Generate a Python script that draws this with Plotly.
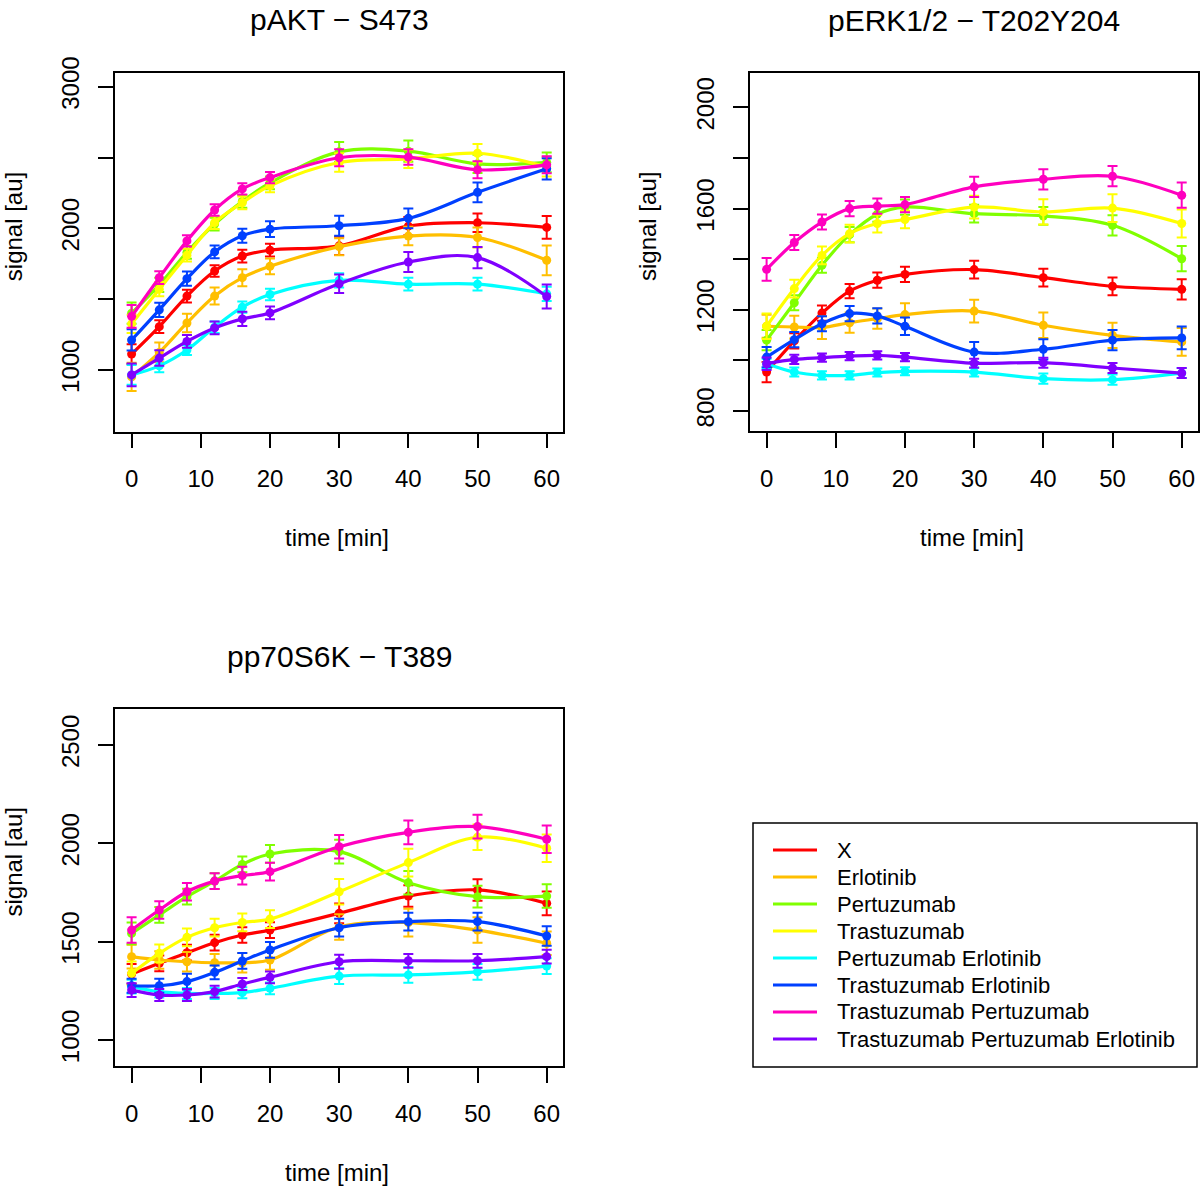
import plotly.graph_objects as go

# ---------------- data ----------------
time_min = [0, 4, 8, 12, 16, 20, 30, 40, 50, 60]

treatments = ["X", "Erlotinib", "Pertuzumab", "Trastuzumab",
              "Pertuzumab Erlotinib", "Trastuzumab Erlotinib",
              "Trastuzumab Pertuzumab", "Trastuzumab Pertuzumab Erlotinib"]

colors = ["#FF0000", "#FFBF00", "#80FF00", "#FFFF00",
          "#00FFFF", "#0040FF", "#FF00BF", "#8000FF"]

panel_titles = ["pAKT \u2212 S473", "pERK1/2 \u2212 T202Y204", "pp70S6K \u2212 T389"]

# pAKT - S473 (means)
pakt_x   = [1111, 1305, 1521, 1698, 1804, 1845, 1876, 2015, 2039, 2006]
pakt_e   = [950, 1123, 1331, 1521, 1651, 1731, 1870, 1945, 1935, 1774]
pakt_p   = [1400, 1600, 1830, 2030, 2190, 2320, 2540, 2545, 2455, 2465]
pakt_t   = [1325, 1570, 1810, 2040, 2180, 2300, 2465, 2490, 2530, 2435]
pakt_pe  = [964, 1028, 1140, 1301, 1443, 1532, 1632, 1605, 1605, 1537]
pakt_te  = [1211, 1424, 1644, 1833, 1947, 1994, 2018, 2070, 2254, 2420]
pakt_tp  = [1378, 1651, 1911, 2129, 2278, 2358, 2498, 2503, 2413, 2448]
pakt_tpe = [964, 1083, 1201, 1296, 1360, 1402, 1608, 1762, 1793, 1518]

# pAKT - S473 (error half-widths)
pakt_x_err   = [70, 45, 45, 40, 45, 45, 65, 65, 65, 80]
pakt_e_err   = [100, 70, 65, 60, 60, 55, 60, 65, 70, 105]
pakt_p_err   = [75, 50, 45, 45, 45, 45, 70, 75, 65, 70]
pakt_t_err   = [65, 50, 45, 45, 45, 45, 65, 65, 65, 70]
pakt_pe_err  = [70, 45, 35, 40, 40, 40, 50, 45, 45, 50]
pakt_te_err  = [75, 50, 50, 45, 50, 55, 70, 70, 70, 75]
pakt_tp_err  = [80, 45, 40, 40, 40, 40, 60, 55, 60, 60]
pakt_tpe_err = [80, 55, 45, 45, 50, 45, 65, 70, 75, 85]

# pERK1/2 - T202Y204 (means)
perk_x   = [954, 1077, 1187, 1274, 1317, 1340, 1359, 1327, 1293, 1281]
perk_e   = [1135, 1132, 1130, 1149, 1165, 1181, 1195, 1139, 1099, 1073]
perk_p   = [1080, 1228, 1376, 1497, 1578, 1606, 1580, 1571, 1534, 1402]
perk_t   = [1135, 1284, 1415, 1501, 1541, 1557, 1606, 1587, 1602, 1541]
perk_pe  = [987, 954, 941, 941, 952, 957, 954, 928, 924, 950]
perk_te  = [1013, 1082, 1145, 1185, 1176, 1135, 1033, 1044, 1080, 1089]
perk_tp  = [1360, 1466, 1547, 1600, 1610, 1616, 1686, 1716, 1728, 1653]
perk_tpe = [987, 1004, 1011, 1017, 1020, 1013, 989, 991, 970, 950]

perk_x_err   = [40, 30, 30, 28, 30, 30, 35, 35, 35, 40]
perk_e_err   = [45, 45, 45, 40, 40, 45, 45, 50, 50, 55]
perk_p_err   = [40, 30, 30, 30, 30, 30, 35, 35, 40, 50]
perk_t_err   = [50, 35, 35, 35, 35, 35, 45, 50, 55, 55]
perk_pe_err  = [20, 18, 16, 16, 16, 16, 18, 20, 20, 20]
perk_te_err  = [40, 30, 30, 30, 30, 35, 40, 40, 40, 45]
perk_tp_err  = [45, 30, 30, 30, 30, 30, 40, 40, 40, 50]
perk_tpe_err = [25, 18, 16, 16, 16, 16, 18, 20, 20, 20]

# pp70S6K - T389 (means)
p70_x   = [1336, 1390, 1444, 1495, 1534, 1559, 1644, 1732, 1763, 1695]
p70_e   = [1424, 1407, 1398, 1393, 1393, 1407, 1575, 1597, 1559, 1492]
p70_p   = [1542, 1636, 1729, 1808, 1893, 1946, 1958, 1800, 1729, 1732]
p70_t   = [1339, 1441, 1522, 1571, 1598, 1615, 1754, 1902, 2031, 1975]
p70_pe  = [1271, 1246, 1237, 1237, 1241, 1263, 1325, 1331, 1347, 1376]
p70_te  = [1276, 1276, 1297, 1344, 1402, 1458, 1571, 1602, 1602, 1529]
p70_tp  = [1559, 1661, 1754, 1808, 1836, 1856, 1983, 2056, 2085, 2021]
p70_tpe = [1254, 1229, 1229, 1246, 1285, 1319, 1398, 1403, 1403, 1424]

p70_x_err   = [50, 40, 40, 40, 40, 40, 50, 55, 55, 60]
p70_e_err   = [60, 45, 50, 45, 50, 50, 65, 70, 65, 60]
p70_p_err   = [55, 40, 40, 40, 40, 45, 60, 60, 55, 60]
p70_t_err   = [60, 45, 45, 45, 45, 45, 65, 70, 65, 70]
p70_pe_err  = [35, 30, 28, 28, 28, 30, 40, 40, 40, 40]
p70_te_err  = [35, 35, 40, 35, 40, 40, 45, 45, 45, 50]
p70_tp_err  = [65, 45, 45, 40, 45, 45, 60, 60, 60, 70]
p70_tpe_err = [35, 30, 30, 30, 30, 30, 35, 35, 35, 35]

x_ticks = [0, 10, 20, 30, 40, 50, 60]
pakt_yticks = [1000, 1500, 2000, 2500, 3000]
pakt_ylabels = ["1000", "", "2000", "", "3000"]
perk_yticks = [800, 1000, 1200, 1400, 1600, 1800, 2000]
perk_ylabels = ["800", "", "1200", "", "1600", "", "2000"]
p70_yticks = [1000, 1500, 2000, 2500]
p70_ylabels = ["1000", "1500", "2000", "2500"]

panels = [
    dict(means=[pakt_x, pakt_e, pakt_p, pakt_t, pakt_pe, pakt_te, pakt_tp, pakt_tpe],
         errs=[pakt_x_err, pakt_e_err, pakt_p_err, pakt_t_err, pakt_pe_err, pakt_te_err, pakt_tp_err, pakt_tpe_err],
         yticks=pakt_yticks, ylabels=pakt_ylabels),
    dict(means=[perk_x, perk_e, perk_p, perk_t, perk_pe, perk_te, perk_tp, perk_tpe],
         errs=[perk_x_err, perk_e_err, perk_p_err, perk_t_err, perk_pe_err, perk_te_err, perk_tp_err, perk_tpe_err],
         yticks=perk_yticks, ylabels=perk_ylabels),
    dict(means=[p70_x, p70_e, p70_p, p70_t, p70_pe, p70_te, p70_tp, p70_tpe],
         errs=[p70_x_err, p70_e_err, p70_p_err, p70_t_err, p70_pe_err, p70_te_err, p70_tp_err, p70_tpe_err],
         yticks=p70_yticks, ylabels=p70_ylabels),
]

# ---------------- layout geometry (pixels) ----------------
W, H = 1200, 1187
FONT = "Liberation Sans, Arial, Helvetica, sans-serif"

boxes = [  # (left, right, top, bottom)
    (115, 563.3, 72.7, 431.7),
    (750, 1198.3, 73.0, 431.0),
    (115, 563.3, 709.0, 1066.0),
]
yranges = [[563, 3099], [721, 2136], [868, 2683]]
xrange_ = [-2.4, 62.4]

fig = go.Figure()

for pi, panel in enumerate(panels):
    xa = "x" if pi == 0 else f"x{pi+1}"
    ya = "y" if pi == 0 else f"y{pi+1}"
    for si, name in enumerate(treatments):
        fig.add_trace(go.Scatter(
            x=time_min, y=panel["means"][si], mode="lines",
            line=dict(color=colors[si], width=3.2, shape="spline", smoothing=1.0),
            name=name, legendgroup=name, showlegend=False,
            xaxis=xa, yaxis=ya, hoverinfo="skip"))
        fig.add_trace(go.Scatter(
            x=time_min, y=panel["means"][si], mode="markers",
            marker=dict(color=colors[si], size=9),
            error_y=dict(type="data", array=panel["errs"][si], color=colors[si],
                         thickness=2, width=5),
            name=name, legendgroup=name, showlegend=False,
            xaxis=xa, yaxis=ya))

axis_common = dict(showline=True, mirror=True, linecolor="black", linewidth=1.5,
                   ticks="outside", ticklen=15, tickwidth=1.5, tickcolor="black",
                   showgrid=False, zeroline=False, automargin=False,
                   tickfont=dict(family=FONT, size=24, color="black"))

layout = dict(width=W, height=H, margin=dict(l=0, r=0, t=0, b=0, autoexpand=False),
              paper_bgcolor="white", plot_bgcolor="white", showlegend=False,
              font=dict(family=FONT, color="black"))

annotations = []
shapes = []
for pi, (l, r, t, b) in enumerate(boxes):
    sx = "" if pi == 0 else str(pi + 1)
    layout["xaxis" + sx] = dict(axis_common, domain=[l / W, r / W], range=xrange_,
                                tickmode="array", tickvals=x_ticks,
                                ticktext=[str(v) for v in x_ticks],
                                anchor="y" + sx, ticklabelstandoff=10)
    layout["yaxis" + sx] = dict(axis_common, domain=[1 - b / H, 1 - t / H], range=yranges[pi],
                                tickmode="array", tickvals=panels[pi]["yticks"],
                                ticktext=panels[pi]["ylabels"], tickangle=-90,
                                anchor="x" + sx, ticklabelstandoff=10)
    cx = (l + r) / 2
    annotations.append(dict(text=panel_titles[pi], x=cx / W, y=1 - (t - 53) / H,
                            xref="paper", yref="paper", showarrow=False,
                            xanchor="center", yanchor="middle",
                            font=dict(family=FONT, size=30, color="black")))
    annotations.append(dict(text="time [min]", x=(cx - 2) / W, y=1 - (b + 106) / H,
                            xref="paper", yref="paper", showarrow=False,
                            xanchor="center", yanchor="middle",
                            font=dict(family=FONT, size=24, color="black")))
    annotations.append(dict(text="signal [au]", x=(l - 102) / W, y=1 - ((t + b) / 2 - 25) / H,
                            xref="paper", yref="paper", showarrow=False, textangle=-90,
                            xanchor="center", yanchor="middle",
                            font=dict(family=FONT, size=24, color="black")))

# legend (drawn as a boxed key, R style)
leg_left, leg_right, leg_top, leg_bottom = 753, 1197, 823, 1067
shapes.append(dict(type="rect", xref="paper", yref="paper",
                   x0=leg_left / W, x1=leg_right / W, y0=1 - leg_bottom / H, y1=1 - leg_top / H,
                   line=dict(color="black", width=1.5), fillcolor="rgba(0,0,0,0)"))
row0, row_step = 850, 27.0
for si, name in enumerate(treatments):
    yy = 1 - (row0 + si * row_step) / H
    shapes.append(dict(type="line", xref="paper", yref="paper",
                       x0=773 / W, x1=817 / W, y0=yy, y1=yy,
                       line=dict(color=colors[si], width=3.2)))
    annotations.append(dict(text=name, x=835 / W, y=yy, xref="paper", yref="paper",
                            showarrow=False, xanchor="left", yanchor="middle",
                            font=dict(family=FONT, size=22, color="black")))

layout["annotations"] = annotations
layout["shapes"] = shapes

fig.update_layout(**layout)
fig.write_html("out.html", config={"displayModeBar": False},
               post_script="document.body.style.margin='0px';")
